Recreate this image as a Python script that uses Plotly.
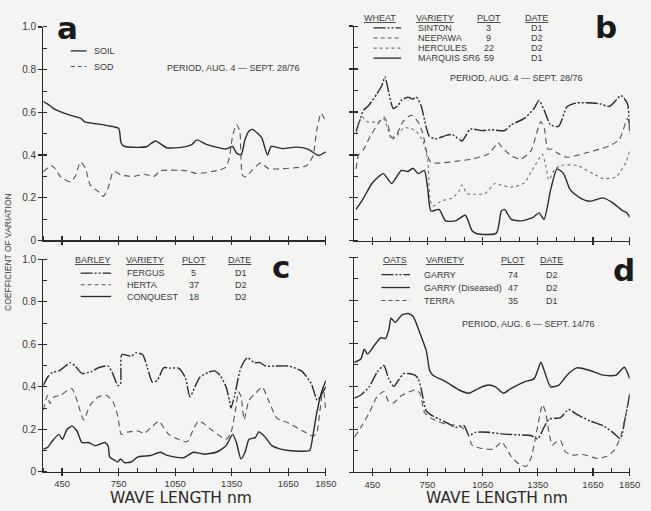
import plotly.graph_objects as go

W, H = 651, 511

# ---------------- DATA ----------------
# Panel a
a_soil_x = [350,380,410,450,500,550,570,620,690,750,762,775,850,900,945,1005,1090,1140,1165,1215,1320,1355,1375,1400,1420,1440,1460,1490,1510,1540,1560,1620,1690,1755,1810,1850]
a_soil_y = [0.65,0.635,0.615,0.60,0.585,0.572,0.555,0.548,0.538,0.525,0.46,0.443,0.436,0.44,0.466,0.434,0.437,0.45,0.471,0.45,0.428,0.44,0.41,0.40,0.47,0.51,0.52,0.50,0.48,0.40,0.44,0.43,0.437,0.428,0.398,0.415]
a_sod_x = [350,390,410,442,494,520,547,573,599,642,668,694,720,737,764,833,885,938,972,1112,1164,1285,1320,1338,1355,1376,1393,1407,1425,1460,1503,1547,1620,1686,1747,1782,1800,1825,1850]
a_sod_y = [0.32,0.35,0.34,0.298,0.275,0.30,0.367,0.34,0.26,0.229,0.206,0.245,0.32,0.32,0.306,0.30,0.31,0.30,0.326,0.326,0.313,0.33,0.344,0.39,0.49,0.543,0.51,0.306,0.298,0.33,0.362,0.336,0.336,0.34,0.35,0.398,0.51,0.596,0.555]

# Panel b (wheat)
b_sinton_x = [362,403,430,475,501,519,537,564,590,608,644,671,689,715,742,760,795,849,885,938,983,1045,1100,1170,1206,1277,1330,1357,1384,1420,1464,1509,1562,1687,1740,1803,1838,1850]
b_sinton_y = [0.51,0.608,0.63,0.684,0.722,0.763,0.70,0.616,0.63,0.654,0.669,0.66,0.67,0.63,0.533,0.487,0.475,0.49,0.495,0.465,0.52,0.513,0.517,0.513,0.54,0.57,0.616,0.654,0.61,0.54,0.533,0.624,0.642,0.638,0.626,0.676,0.638,0.50]
b_neepawa_x = [362,375,403,439,484,514,537,555,582,617,662,698,724,751,769,813,902,992,1081,1135,1150,1206,1259,1313,1366,1385,1405,1430,1455,1509,1616,1740,1794,1838,1850]
b_neepawa_y = [0.335,0.40,0.426,0.487,0.548,0.578,0.533,0.48,0.495,0.555,0.585,0.555,0.502,0.396,0.366,0.362,0.37,0.381,0.404,0.457,0.44,0.396,0.381,0.419,0.555,0.525,0.427,0.427,0.41,0.389,0.41,0.442,0.472,0.57,0.53]
b_hercules_x = [362,394,421,484,510,530,555,591,617,653,689,724,751,763,778,822,885,921,938,965,1010,1063,1117,1150,1206,1277,1313,1345,1375,1393,1411,1440,1473,1562,1651,1705,1776,1830,1850]
b_hercules_y = [0.50,0.578,0.555,0.555,0.57,0.533,0.472,0.495,0.525,0.525,0.51,0.465,0.381,0.20,0.161,0.184,0.20,0.23,0.26,0.22,0.217,0.22,0.267,0.26,0.25,0.27,0.32,0.366,0.404,0.35,0.283,0.33,0.351,0.351,0.313,0.29,0.298,0.366,0.419]
b_marquis_x = [362,403,448,510,555,608,644,671,700,733,751,769,813,849,902,956,992,1019,1125,1152,1170,1206,1259,1322,1357,1384,1420,1455,1490,1527,1580,1633,1705,1758,1812,1835,1850]
b_marquis_y = [0.146,0.20,0.267,0.313,0.267,0.328,0.323,0.338,0.313,0.328,0.245,0.139,0.146,0.093,0.093,0.119,0.048,0.033,0.036,0.139,0.146,0.10,0.093,0.108,0.13,0.10,0.237,0.335,0.313,0.237,0.20,0.184,0.20,0.177,0.14,0.13,0.11]

# Panel c (barley)
c_fergus_x = [350,373,399,433,468,494,520,555,607,642,694,720,746,760,767,816,842,877,903,929,955,990,1025,1068,1103,1129,1155,1181,1225,1259,1290,1320,1338,1346,1364,1399,1434,1469,1500,1530,1583,1651,1720,1773,1804,1830,1850]
c_fergus_y = [0.406,0.445,0.468,0.475,0.498,0.514,0.498,0.463,0.472,0.49,0.498,0.46,0.406,0.414,0.552,0.544,0.56,0.552,0.49,0.422,0.43,0.49,0.488,0.488,0.445,0.353,0.40,0.445,0.468,0.475,0.452,0.40,0.337,0.30,0.353,0.49,0.537,0.514,0.514,0.498,0.498,0.498,0.475,0.414,0.337,0.37,0.40]
c_herta_x = [350,373,385,407,442,477,503,529,564,599,642,685,720,746,764,798,851,886,929,964,990,1016,1068,1112,1147,1173,1210,1251,1320,1346,1373,1386,1400,1416,1442,1475,1512,1545,1590,1651,1720,1781,1800,1820,1835,1850]
c_herta_y = [0.291,0.36,0.322,0.353,0.36,0.383,0.391,0.337,0.245,0.314,0.353,0.36,0.33,0.261,0.176,0.187,0.192,0.181,0.215,0.238,0.207,0.176,0.153,0.141,0.20,0.238,0.222,0.192,0.153,0.184,0.307,0.376,0.353,0.245,0.337,0.368,0.399,0.337,0.253,0.23,0.196,0.169,0.18,0.30,0.40,0.28]
c_conquest_x = [350,373,399,433,451,477,503,529,555,590,625,651,677,694,703,729,746,760,781,816,851,920,972,1007,1094,1147,1199,1268,1320,1355,1375,1399,1421,1442,1475,1493,1503,1530,1564,1597,1651,1738,1764,1781,1800,1825,1850]
c_conquest_y = [0.107,0.115,0.146,0.176,0.153,0.20,0.215,0.192,0.138,0.138,0.123,0.13,0.138,0.123,0.069,0.054,0.046,0.061,0.043,0.046,0.069,0.077,0.092,0.077,0.066,0.092,0.084,0.092,0.123,0.176,0.138,0.061,0.092,0.153,0.161,0.188,0.184,0.161,0.123,0.11,0.10,0.097,0.10,0.17,0.27,0.37,0.43]

# Panel d (oats)
d_garry_x = [353,388,433,477,513,539,566,593,620,655,682,700,717,744,780,815,851,904,949,976,1011,1082,1153,1243,1313,1349,1384,1411,1474,1518,1562,1634,1705,1758,1800,1825,1850]
d_garry_y = [0.345,0.36,0.398,0.467,0.497,0.436,0.40,0.429,0.459,0.459,0.452,0.436,0.383,0.285,0.262,0.247,0.232,0.209,0.217,0.171,0.186,0.186,0.179,0.174,0.171,0.156,0.209,0.247,0.255,0.292,0.27,0.239,0.217,0.186,0.157,0.25,0.36]
d_diseased_x = [353,388,406,424,459,495,522,540,552,575,610,646,673,709,744,762,780,851,922,976,1029,1082,1120,1162,1206,1278,1331,1367,1385,1420,1465,1509,1562,1634,1705,1776,1821,1850]
d_diseased_y = [0.512,0.527,0.573,0.55,0.588,0.626,0.623,0.664,0.717,0.698,0.732,0.739,0.724,0.648,0.565,0.474,0.452,0.421,0.383,0.368,0.391,0.406,0.398,0.368,0.391,0.421,0.436,0.512,0.474,0.398,0.406,0.452,0.486,0.474,0.452,0.452,0.489,0.436]
d_terra_x = [353,388,433,477,513,539,566,602,655,682,709,735,780,851,922,967,993,1047,1109,1153,1175,1206,1243,1287,1313,1340,1376,1393,1411,1429,1450,1474,1500,1545,1598,1669,1723,1767,1803,1838,1850]
d_terra_y = [0.164,0.209,0.277,0.353,0.376,0.33,0.323,0.353,0.376,0.383,0.368,0.277,0.247,0.224,0.217,0.186,0.126,0.111,0.108,0.141,0.118,0.073,0.042,0.027,0.065,0.171,0.315,0.277,0.186,0.126,0.141,0.148,0.095,0.08,0.083,0.065,0.073,0.103,0.171,0.308,0.368]

x_major = [450, 750, 1050, 1350, 1650, 1850]
x_major_labels = ["450", "750", "1050", "1350", "1650", "1850"]
y_major = [0, 0.2, 0.4, 0.6, 0.8, 1.0]
y_major_labels = ["0", "0.2", "0.4", "0.6", "0.8", "1.0"]

# ---------------- STYLE ----------------
BG = "#f4f4f2"
INK = "#2b2b2b"
TXT = "#3a3a3a"
FONT = "Liberation Sans, Arial, sans-serif"
SOLID = "solid"
DASH = "6px,4px"
DASHDOT = "12px,2px,2px,2px,2px,2px"

# panel pixel boxes: (x0, x1, ytop(=1.0), ybottom(=0))
boxes = {
    1: (44, 331.5, 21.5, 240),
    2: (360, 640.5, 20.5, 240.5),
    3: (44, 331.5, 259.5, 477),
    4: (360, 640.5, 257.5, 477.5),
}

fig = go.Figure()

def add(panel, xs, ys, dash, width=1.4, color=INK):
    sfx = "" if panel == 1 else str(panel)
    fig.add_trace(go.Scatter(x=xs, y=ys, mode="lines",
                             line=dict(color=color, width=width, dash=dash, shape="spline", smoothing=0.6),
                             xaxis="x" + sfx, yaxis="y" + sfx, showlegend=False, hoverinfo="skip"))

add(1, a_soil_x, a_soil_y, SOLID)
add(1, a_sod_x, a_sod_y, DASH, 1.1, "#555")
add(2, b_sinton_x, b_sinton_y, DASHDOT)
add(2, b_neepawa_x, b_neepawa_y, DASH, 1.1, "#555")
add(2, b_hercules_x, b_hercules_y, "dot", 1.1, "#777")
add(2, b_marquis_x, b_marquis_y, SOLID)
add(3, c_fergus_x, c_fergus_y, DASHDOT)
add(3, c_herta_x, c_herta_y, DASH, 1.1, "#555")
add(3, c_conquest_x, c_conquest_y, SOLID)
add(4, d_garry_x, d_garry_y, DASHDOT)
add(4, d_diseased_x, d_diseased_y, SOLID)
add(4, d_terra_x, d_terra_y, DASH, 1.1, "#555")

layout = dict(width=W, height=H, margin=dict(l=0, r=0, t=0, b=0),
              paper_bgcolor=BG, plot_bgcolor=BG, showlegend=False,
              font=dict(family=FONT, color=TXT, size=10))

for p, (x0, x1, yt, yb) in boxes.items():
    sfx = "" if p == 1 else str(p)
    show_x = p in (3, 4)
    show_y = p in (1, 3)
    layout["xaxis" + sfx] = dict(
        domain=[x0 / W, x1 / W], range=[350, 1850], anchor="y" + sfx,
        showline=True, linecolor=INK, linewidth=1.2, showgrid=False, zeroline=False,
        tickmode="array", tickvals=x_major, ticktext=x_major_labels,
        showticklabels=show_x, ticks="outside", ticklen=3, tickwidth=1.2, tickcolor=INK,
        tickfont=dict(size=9.5, color=TXT, family=FONT),
        minor=dict(ticks="inside", tick0=350, dtick=100, ticklen=4, tickwidth=1, tickcolor=INK),
        fixedrange=True)
    layout["yaxis" + sfx] = dict(
        domain=[1 - yb / H, 1 - yt / H], range=[0, 1.0], anchor="x" + sfx,
        showline=True, linecolor=INK, linewidth=1.2, showgrid=False, zeroline=False,
        tickmode="array", tickvals=y_major, ticktext=y_major_labels,
        showticklabels=show_y, ticks="outside", ticklen=4, tickwidth=1.2, tickcolor=INK,
        tickfont=dict(size=10, color=TXT, family=FONT),
        minor=dict(ticks="inside", tick0=0, dtick=0.1, ticklen=4, tickwidth=1, tickcolor=INK),
        fixedrange=True)
    # overlay axes to make major ticks cross the axis line
    ox, oy = str(p + 4), str(p + 4)
    layout["xaxis" + ox] = dict(overlaying="x" + sfx, anchor="y" + sfx, range=[350, 1850],
                                showline=False, showgrid=False, zeroline=False,
                                tickmode="array", tickvals=x_major, showticklabels=False,
                                ticks="inside", ticklen=4, tickwidth=1.2, tickcolor=INK, fixedrange=True)
    layout["yaxis" + oy] = dict(overlaying="y" + sfx, anchor="x" + sfx, range=[0, 1.0],
                                showline=False, showgrid=False, zeroline=False,
                                tickmode="array", tickvals=y_major, showticklabels=False,
                                ticks="inside", ticklen=4, tickwidth=1.2, tickcolor=INK, fixedrange=True)
    fig.add_trace(go.Scatter(x=[], y=[], xaxis="x" + ox, yaxis="y" + oy, showlegend=False))

annotations = []
shapes = []

def txt(x, y, s, size=8.5, anchor="left", family=FONT, angle=0, color=TXT, yanchor="middle"):
    annotations.append(dict(x=x / W, y=1 - y / H, xref="paper", yref="paper", text=s, showarrow=False,
                            xanchor=anchor, yanchor=yanchor, textangle=angle, borderpad=0,
                            font=dict(size=size, family=family, color=color)))

def sample(x0, x1, y, dash, width=1.3, color=INK):
    shapes.append(dict(type="line", xref="paper", yref="paper", x0=x0 / W, x1=x1 / W,
                       y0=1 - y / H, y1=1 - y / H, line=dict(color=color, width=width, dash=dash)))

BIG = "DejaVu Sans, sans-serif"
# panel letters
txt(69, 23, "<b>a</b>", 31, "center", family=BIG, color="#1a1a1a")
txt(616, 21, "<b>b</b>", 31, "center", family=BIG, color="#1a1a1a")
txt(286, 267, "<b>c</b>", 31, "center", family=BIG, color="#1a1a1a")
txt(635, 270, "<b>d</b>", 31, "center", family=BIG, color="#1a1a1a")

# panel a legend
sample(72, 88, 46, SOLID)
sample(72, 88, 62, "4px,3px", 1.1, "#555")
txt(95, 46, "SOIL", 9)
txt(95, 62, "SOD", 9)
txt(238, 64, "PERIOD, AUG. 4 — SEPT. 28/76", 9, "center")

# panel b legend table
txt(387, 12, "<u>WHEAT</u>", 9, "center")
txt(442, 12, "<u>VARIETY</u>", 9, "center")
txt(497, 12, "<u>PLOT</u>", 9, "center")
txt(546, 12, "<u>DATE</u>", 9, "center")
b_rows = [("SINTON", "3", "D1", DASHDOT, INK, 1.3), ("NEEPAWA", "9", "D2", "4px,3px", "#555", 1.1),
          ("HERCULES", "22", "D2", "dot", "#777", 1.1), ("MARQUIS SR6", "59", "D1", SOLID, INK, 1.3)]
for i, (v, pl, dt, ds, col, wd) in enumerate(b_rows):
    yy = 22.5 + i * 10.3
    sample(380, 408, yy, ds, wd, col)
    txt(424, yy, v, 9)
    txt(497, yy, pl, 9, "center")
    txt(546, yy, dt, 9, "center")
txt(525, 74, "PERIOD, AUG. 4 — SEPT. 28/76", 9, "center")

# panel c legend table
txt(95, 260.5, "<u>BARLEY</u>", 9, "center")
txt(147, 260.5, "<u>VARIETY</u>", 9, "center")
txt(197, 260.5, "<u>PLOT</u>", 9, "center")
txt(244, 260.5, "<u>DATE</u>", 9, "center")
c_rows = [("FERGUS", "5", "D1", DASHDOT, INK, 1.3), ("HERTA", "37", "D2", "4px,3px", "#555", 1.1),
          ("CONQUEST", "18", "D2", SOLID, INK, 1.3)]
for i, (v, pl, dt, ds, col, wd) in enumerate(c_rows):
    yy = 273.5 + i * 12
    sample(82, 113, yy, ds, wd, col)
    txt(128, yy, v, 9)
    txt(197, yy, pl, 9, "center")
    txt(245, yy, dt, 9, "center")

# panel d legend table
txt(402, 260.5, "<u>OATS</u>", 9, "center")
txt(453, 260.5, "<u>VARIETY</u>", 9, "center")
txt(522, 260.5, "<u>PLOT</u>", 9, "center")
txt(561, 260.5, "<u>DATE</u>", 9, "center")
d_rows = [("GARRY", "74", "D2", DASHDOT, INK, 1.3), ("GARRY (Diseased)", "47", "D2", SOLID, INK, 1.3),
          ("TERRA", "35", "D1", "4px,3px", "#555", 1.1)]
for i, (v, pl, dt, ds, col, wd) in enumerate(d_rows):
    yy = 275 + i * 13.3
    sample(388, 417, yy, ds, wd, col)
    txt(430, yy, v, 9)
    txt(522, yy, pl, 9, "center")
    txt(561, yy, dt, 9, "center")
txt(538, 325.5, "PERIOD, AUG. 6 — SEPT. 14/76", 9, "center")

# axis titles
txt(184, 493.5, "WAVE LENGTH nm", 15.5, "center", family=BIG, color="#2a2a2a", yanchor="top")
txt(506, 493.5, "WAVE LENGTH nm", 15.5, "center", family=BIG, color="#2a2a2a", yanchor="top")
txt(8, 252, "COEFFICIENT OF VARIATION", 8.5, "center", angle=-90)

layout["annotations"] = annotations
layout["shapes"] = shapes
fig.update_layout(**layout)
fig.write_html("out.html", config={"displayModeBar": False, "staticPlot": True},
               post_script="document.body.style.margin='0';document.body.style.overflow='hidden';")
